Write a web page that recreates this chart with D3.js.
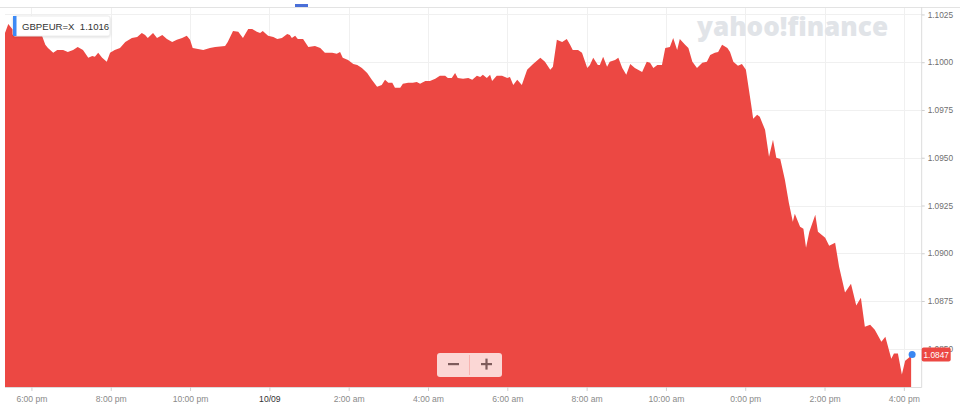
<!DOCTYPE html>
<html>
<head>
<meta charset="utf-8">
<script src="https://cdn.jsdelivr.net/npm/d3@7"></script>
<style>
  html, body { margin: 0; padding: 0; background: #fff; }
  svg { display: block; font-family: "Liberation Sans", Arial, sans-serif; }
</style>
</head>
<body>
<svg id="chart" width="960" height="418"></svg>
<script>
// ---- DATA ----
// minutes elapsed since 10/08 17:20 (local), and GBPEUR=X price
const minutes = [0,5,11,17,26,35,44,53,56,61,65,73,79,88,95,103,110,118,126,132,136,141,147,154,159,166,174,182,192,200,207,212,216,224,230,238,245,253,260,268,275,280,284,300,310,318,333,337,345,353,360,368,374,381,386,390,398,406,412,419,427,431,434,439,443,451,459,469,477,484,495,502,507,511,519,527,533,540,548,555,563,570,575,580,586,590,598,602,610,617,623,628,636,643,651,658,666,670,676,681,685,693,701,707,714,719,723,729,734,737,744,752,760,764,769,775,782,790,799,810,817,825,829,835,843,850,855,859,867,873,881,885,890,897,900,905,911,915,923,928,934,940,946,953,964,971,976,981,987,994,999,1006,1011,1017,1021,1029,1034,1040,1047,1055,1062,1067,1074,1079,1085,1093,1097,1102,1109,1115,1121,1129,1132,1138,1142,1150,1156,1162,1167,1173,1180,1186,1192,1195,1203,1208,1212,1217,1226,1230,1241,1247,1256,1262,1271,1280,1288,1295,1301,1309,1316,1326,1332,1341,1345,1351,1357,1362,1368,1371];
const prices = [1.10153,1.10200,1.10174,1.10164,1.10169,1.10159,1.10164,1.10153,1.10138,1.10091,1.10075,1.10049,1.10064,1.10064,1.10054,1.10064,1.10080,1.10064,1.10023,1.10033,1.10028,1.10049,1.10023,1.10002,1.10049,1.10064,1.10075,1.10106,1.10127,1.10132,1.10153,1.10143,1.10127,1.10153,1.10127,1.10143,1.10122,1.10106,1.10117,1.10127,1.10138,1.10117,1.10075,1.10064,1.10075,1.10080,1.10085,1.10106,1.10164,1.10159,1.10127,1.10174,1.10174,1.10159,1.10153,1.10164,1.10138,1.10132,1.10122,1.10127,1.10148,1.10143,1.10127,1.10138,1.10122,1.10122,1.10080,1.10085,1.10075,1.10049,1.10049,1.10044,1.10054,1.10023,1.10012,1.09991,1.09986,1.09970,1.09944,1.09908,1.09871,1.09881,1.09908,1.09892,1.09892,1.09866,1.09866,1.09887,1.09892,1.09892,1.09897,1.09887,1.09902,1.09902,1.09913,1.09929,1.09929,1.09918,1.09918,1.09944,1.09918,1.09913,1.09918,1.09908,1.09929,1.09923,1.09934,1.09918,1.09934,1.09902,1.09929,1.09929,1.09918,1.09923,1.09881,1.09908,1.09881,1.09960,1.09991,1.10023,1.10002,1.09960,1.09976,1.10117,1.10106,1.10122,1.10091,1.10064,1.10064,1.10049,1.09970,1.09986,1.10023,1.09986,1.09986,1.10028,1.09976,1.10002,1.10012,1.10023,1.09970,1.09934,1.09991,1.09970,1.09949,1.10002,1.09997,1.09970,1.09986,1.09986,1.10075,1.10080,1.10127,1.10064,1.10122,1.10091,1.10075,1.10002,1.09970,1.09997,1.10002,1.10038,1.10049,1.10054,1.10091,1.10075,1.10054,1.10002,1.09981,1.09991,1.09960,1.09777,1.09704,1.09725,1.09714,1.09646,1.09505,1.09594,1.09500,1.09494,1.09385,1.09264,1.09165,1.09207,1.09139,1.09128,1.09029,1.09113,1.09202,1.09113,1.09081,1.09039,1.09055,1.08930,1.08794,1.08841,1.08726,1.08767,1.08616,1.08626,1.08600,1.08537,1.08563,1.08448,1.08475,1.08475,1.08365,1.08438,1.08454,1.08470];

const xTickHours = [18, 20, 22, 24, 26, 28, 30, 32, 34, 36, 38, 40]; // hours from 10/08 00:00
const xTickLabels = ["6:00 pm","8:00 pm","10:00 pm","10/09","2:00 am","4:00 am","6:00 am","8:00 am","10:00 am","0:00 pm","2:00 pm","4:00 pm"];
const yTicks = [1.0850, 1.0875, 1.0900, 1.0925, 1.0950, 1.0975, 1.1000, 1.1025];
const symbol = "GBPEUR=X";
const headerPrice = "1.1016";
const lastPrice = 1.0847;

// ---- LAYOUT ----
const start = new Date(2019, 9, 8, 17, 20);
const toDate = m => new Date(start.getTime() + m * 60000);
const plot = { left: 5, right: 921.7, top: 7, bottom: 387 };

const x = d3.scaleTime()
  .domain([start, toDate(1387)])
  .range([plot.left, plot.right]);
const y = d3.scaleLinear()
  .domain([1.0830, 1.10289])
  .range([plot.bottom, plot.top]);

const data = minutes.map((m, i) => ({ t: toDate(m), v: prices[i] }));
const tickDates = xTickHours.map(h => new Date(2019, 9, 8, h));

const svg = d3.select("#chart");

// top strip remnants
svg.append("line").attr("x1", 0).attr("x2", 960).attr("y1", 7.5).attr("y2", 7.5)
  .attr("stroke", "#e3e3e3").attr("stroke-width", 1);
svg.append("rect").attr("x", 295).attr("y", 4).attr("width", 13).attr("height", 3).attr("fill", "#4a6fd8");

// grid
const grid = svg.append("g");
grid.selectAll("line.h").data(yTicks).join("line")
  .attr("x1", plot.left).attr("x2", plot.right)
  .attr("y1", d => Math.round(y(d)) + 0.5).attr("y2", d => Math.round(y(d)) + 0.5)
  .attr("stroke", "#f0f0f0");
grid.selectAll("line.v").data(tickDates).join("line")
  .attr("x1", d => Math.round(x(d)) + 0.5).attr("x2", d => Math.round(x(d)) + 0.5)
  .attr("y1", plot.top + 1).attr("y2", plot.bottom)
  .attr("stroke", "#f0f0f0");

// watermark
svg.append("text")
  .attr("x", 697).attr("y", 36)
  .attr("textLength", 191).attr("lengthAdjust", "spacingAndGlyphs")
  .attr("font-family", "'Open Sans', sans-serif").attr("font-weight", 800)
  .attr("font-size", 27).attr("fill", "#e1e4e8")
  .text("yahoo!finance");

// area
const area = d3.area()
  .x(d => x(d.t))
  .y0(plot.bottom)
  .y1(d => y(d.v));
svg.append("path").datum(data).attr("d", area).attr("fill", "#ec4843");

// right border
svg.append("line").attr("x1", plot.right).attr("x2", plot.right)
  .attr("y1", plot.top).attr("y2", plot.bottom + 0.5).attr("stroke", "#dcdcdc");

// x axis
const xAxis = svg.append("g").attr("transform", `translate(0,${plot.bottom})`)
  .call(d3.axisBottom(x).tickValues(tickDates).tickFormat((d, i) => xTickLabels[i]).tickSize(4).tickPadding(5));
xAxis.select(".domain").attr("stroke", "#dcdcdc").attr("d", `M${plot.left},0.5H${plot.right}`);
xAxis.selectAll(".tick line").attr("stroke", "#d0d0d0");
xAxis.selectAll(".tick text")
  .attr("font-size", 8.6).attr("font-family", "'Liberation Sans', Arial, sans-serif")
  .attr("fill", (d, i) => xTickLabels[i].includes("/") ? "#333" : "#8a8a8a");

// y axis
const yAxis = svg.append("g").attr("transform", `translate(${plot.right},0)`)
  .call(d3.axisRight(y).tickValues(yTicks).tickFormat(d3.format(".4f")).tickSize(3).tickPadding(3));
yAxis.select(".domain").remove();
yAxis.selectAll(".tick line").attr("stroke", "#cfcfcf");
yAxis.selectAll(".tick text")
  .attr("font-size", 8.3).attr("font-family", "'Liberation Sans', Arial, sans-serif")
  .attr("fill", "#6f6f6f");

// last price tag
const lastY = y(lastPrice);
svg.append("rect").attr("x", plot.right).attr("y", lastY - 7).attr("width", 29).attr("height", 14)
  .attr("rx", 2).attr("fill", "#ec4843");
svg.append("text").attr("x", plot.right + 14.5).attr("y", lastY + 3)
  .attr("text-anchor", "middle").attr("font-size", 8.3).attr("fill", "#fff")
  .text(d3.format(".4f")(lastPrice));

// last point dot
const last = data[data.length - 1];
svg.append("circle").attr("cx", x(last.t) + 1).attr("cy", y(last.v)).attr("r", 3.5).attr("fill", "#3a87f2");

// legend box
const lg = svg.append("g");
lg.append("rect").attr("x", 13).attr("y", 16).attr("width", 97).attr("height", 20).attr("rx", 2)
  .attr("fill", "#fff").attr("stroke", "#ececec")
  .style("filter", "drop-shadow(0px 1px 1px rgba(0,0,0,0.12))");
lg.append("rect").attr("x", 13).attr("y", 16).attr("width", 3.5).attr("height", 20).attr("fill", "#3d8af5");
lg.append("text").attr("x", 22).attr("y", 29.5).attr("font-size", 9.6).attr("fill", "#333")
  .attr("font-family", "'Liberation Sans', Arial, sans-serif")
  .text(symbol + "  " + headerPrice).attr("xml:space", "preserve").style("white-space", "pre");

// zoom buttons
const zb = svg.append("g");
zb.append("rect").attr("x", 437).attr("y", 353).attr("width", 65).attr("height", 24).attr("rx", 3)
  .attr("fill", "rgba(255,255,255,0.78)");
zb.append("line").attr("x1", 469.5).attr("x2", 469.5).attr("y1", 355).attr("y2", 375)
  .attr("stroke", "rgba(236,72,67,0.25)");
zb.append("rect").attr("x", 448).attr("y", 363).attr("width", 11).attr("height", 2.2).attr("fill", "#7e5c5c");
zb.append("rect").attr("x", 481).attr("y", 363).attr("width", 11).attr("height", 2.2).attr("fill", "#7e5c5c");
zb.append("rect").attr("x", 485.4).attr("y", 358.6).attr("width", 2.2).attr("height", 11).attr("fill", "#7e5c5c");
</script>
</body>
</html>
